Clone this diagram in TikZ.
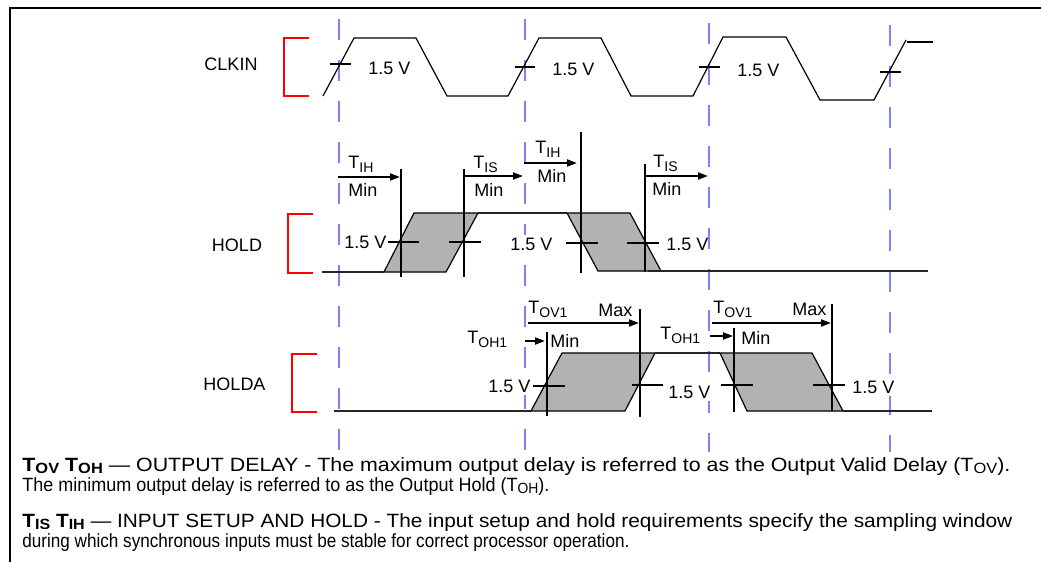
\documentclass[tikz,border=0pt]{standalone}
\usepackage{fontspec}
\setmainfont{Liberation Sans}
\usepackage{graphicx}
\usetikzlibrary{arrows.meta}
\definecolor{dashblue}{RGB}{128,128,255}
\newsavebox\fitbox
\newcommand\fitline[2]{\sbox\fitbox{#2}\pgfmathsetmacro\fitsx{#1/\the\wd\fitbox}\scalebox{\fitsx}[1]{\usebox\fitbox}}
\newcommand\tsub[1]{\raisebox{-2.2pt}{\fontsize{7}{8}\selectfont #1}}
\newcommand\fsub[1]{\raisebox{-1.4pt}{\fontsize{7.4}{8}\selectfont #1}}
\begin{document}
\begin{tikzpicture}[x=0.5pt,y=-0.5pt,
  lbl/.style={inner sep=0pt, font=\fontsize{9}{10.8}\selectfont},
  volt/.style={lbl, anchor=west, fill=white, inner ysep=1.5pt},
  tlbl/.style={lbl, anchor=base west},
  foot/.style={inner sep=0pt, anchor=base west, font=\fontsize{9.6}{10}\selectfont},
  wave/.style={line width=0.6pt, black},
  sig/.style={line width=0.8pt, black!85},
  shadebox/.style={fill=gray!60, draw=black, line width=0.6pt},
  tickmark/.style={line width=1pt},
  vline/.style={line width=1pt},
  arr/.style={line width=1pt, -{Triangle[length=5pt,width=3.5pt]}},
  brk/.style={red, line width=1pt},
  dashv/.style={dashblue, line width=1pt, dash pattern=on 10.25pt off 10.25pt}]
\useasboundingbox (0,0) rectangle (1041,562);
% frame
\draw[line width=1.3pt] (10,562) -- (10,8) -- (1041,8);
% dashed reference lines
\draw[dashv] (339,19) -- (339,452);
\draw[dashv] (525,19) -- (525,452);
\draw[dashv] (709,23) -- (709,452);
\draw[dashv] (890,25) -- (890,452);
% ---------- CLKIN ----------
\node[lbl] (clk) at (231,64) {CLKIN};
\draw[brk] (309,38) -- (284,38) -- (284,96) -- (309,96);
\draw[wave] (323,96) -- (354,38) -- (416,38) -- (447,96) -- (508,96) -- (539,38)
  -- (601,38) -- (631,96) -- (693,96) -- (723,37) -- (786,37) -- (820,100)
  -- (874,100) -- (906,40);
\draw[wave] (907,42) -- (933,42);
\draw[tickmark] (330,64) -- (351,64);
\draw[tickmark] (515,67) -- (535,67);
\draw[tickmark] (699,67) -- (720,67);
\draw[tickmark] (880,72) -- (901,72);
\node[volt] (cv1) at (368,68) {1.5 V};
\node[volt] (cv2) at (552,69) {1.5 V};
\node[volt] (cv3) at (737,70) {1.5 V};
% ---------- HOLD ----------
\node[lbl] (hold) at (237,245) {HOLD};
\draw[brk] (313,214) -- (288,214) -- (288,273) -- (313,273);
\draw[sig] (322,272) -- (384,272);
\draw[shadebox] (384,272) -- (414,213) -- (478,213) -- (446,272) -- cycle;
\draw[sig] (478,213) -- (567,213);
\draw[shadebox] (567,213) -- (630,213) -- (661,271) -- (598,271) -- cycle;
\draw[sig] (648,271) -- (928,271);
\draw[vline] (401,169) -- (401,277);
\draw[vline] (464,169) -- (464,277);
\draw[vline] (581,132) -- (581,273);
\draw[vline] (645,164) -- (645,272);
\draw[tickmark] (388,242) -- (419,242);
\draw[tickmark] (449,242) -- (481,242);
\draw[tickmark] (566,243) -- (598,243);
\draw[tickmark] (627,243) -- (659,243);
\node[volt] (hv1) at (344,242) {1.5 V};
\node[volt] (hv2) at (510,244) {1.5 V};
\node[volt] (hv3) at (666,244) {1.5 V};
\draw[arr] (338,177) -- (400,177);
\draw[arr] (464,176) -- (523,176);
\draw[arr] (524,163) -- (577,163);
\draw[arr] (645,176) -- (708,176);
\node[tlbl] (tih1) at (348,168) {T\tsub{IH}};
\node[tlbl] (min1) at (348,196) {Min};
\node[tlbl] (tis1) at (473,168) {T\tsub{IS}};
\node[tlbl] (min2) at (474,196) {Min};
\node[tlbl] (tih2) at (535,153) {T\tsub{IH}};
\node[tlbl] (min3) at (537,182) {Min};
\node[tlbl] (tis2) at (653,167) {T\tsub{IS}};
\node[tlbl] (min4) at (652,195) {Min};
% ---------- HOLDA ----------
\node[lbl] (holda) at (234.5,384) {HOLDA};
\draw[brk] (317,354) -- (292,354) -- (292,412) -- (317,412);
\draw[sig] (334,411) -- (531,411);
\draw[shadebox] (531,411) -- (562,353) -- (655,353) -- (625,411) -- cycle;
\draw[sig] (655,353) -- (720,353);
\draw[shadebox] (720,353) -- (812,353) -- (843,411) -- (747,411) -- cycle;
\draw[sig] (843,411) -- (932,411);
\draw[vline] (547,332) -- (547,416);
\draw[vline] (640,309) -- (640,417);
\draw[vline] (734,328) -- (734,412);
\draw[vline] (832,304) -- (832,411);
\draw[tickmark] (533,386) -- (565,386);
\draw[tickmark] (632,385) -- (663,385);
\draw[tickmark] (721,385) -- (753,385);
\draw[tickmark] (813,385) -- (845,385);
\node[volt] (av1) at (488,386) {1.5 V};
\node[volt] (av2) at (668,392) {1.5 V};
\node[volt] (av3) at (852,387) {1.5 V};
\draw[arr] (528,323) -- (639,323);
\draw[arr] (525,341) -- (545,341);
\draw[arr] (712,323) -- (831,323);
\draw[arr] (710,336) -- (733,336);
\node[tlbl] (tov1) at (528,313) {T\tsub{OV1}};
\node[tlbl] (max1) at (598,316) {Max};
\node[tlbl] (toh1) at (467,343) {T\tsub{OH1}};
\node[tlbl] (min5) at (550,347) {Min};
\node[tlbl] (tov2) at (713,313) {T\tsub{OV1}};
\node[tlbl] (max2) at (792,315) {Max};
\node[tlbl] (toh2) at (660,339) {T\tsub{OH1}};
\node[tlbl] (min6) at (741,344) {Min};
% ---------- footer ----------
\node[foot] (f1) at (22,471) {\fitline{494}{\textbf{T\fsub{OV} T\fsub{OH}} — OUTPUT DELAY - The maximum output delay is referred to as the Output Valid Delay (T\fsub{OV}).}};
\node[foot] (f2) at (22,491) {\fitline{263.5}{The minimum output delay is referred to as the Output Hold (T\fsub{OH}).}};
\node[foot] (f3) at (22,527) {\fitline{495}{\textbf{T\fsub{IS} T\fsub{IH}} — INPUT SETUP AND HOLD - The input setup and hold requirements specify the sampling window}};
\node[foot] (f4) at (22,547) {\fitline{303.5}{during which synchronous inputs must be stable for correct processor operation.}};
\end{tikzpicture}
\end{document}
